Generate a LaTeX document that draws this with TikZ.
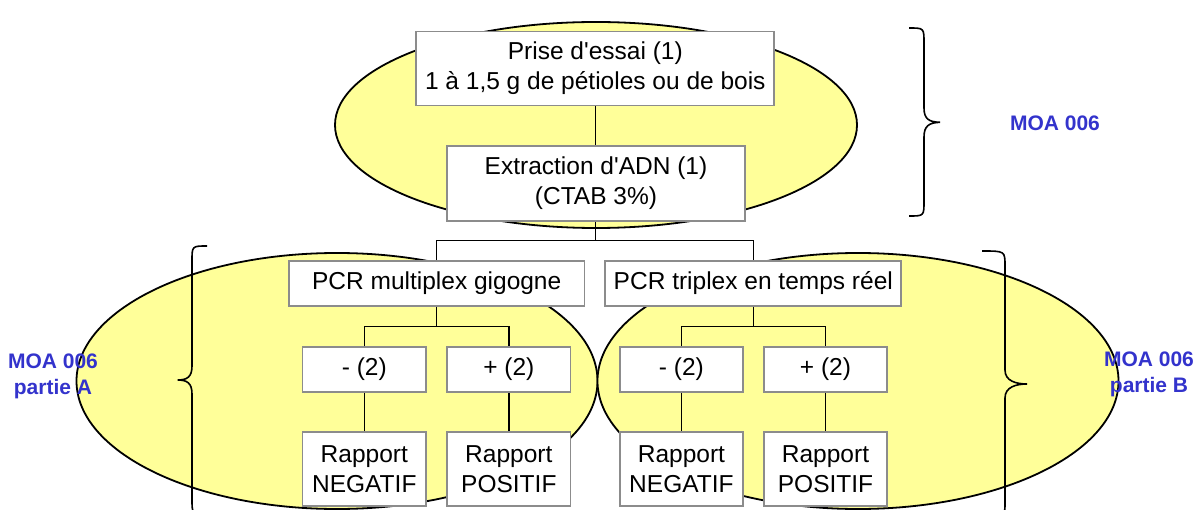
\documentclass[tikz,border=0pt]{standalone}
\usepackage{fontspec}
\setmainfont{Liberation Sans}
\definecolor{ellfill}{HTML}{FFFF99}
\definecolor{boxline}{HTML}{8C8C8C}
\definecolor{moablue}{HTML}{3333CC}
\tikzset{
  ell/.style={draw=black, line width=1.8pt, fill=ellfill},
  stepbox/.style={draw=boxline, line width=1.8pt, fill=white, inner sep=0pt, align=center,
    font=\fontsize{24.5}{30}\selectfont},
  link/.style={draw=black, line width=1.4pt},
  brace/.style={draw=black, line width=1.6pt},
  moalabel/.style={text=moablue, align=center, font=\fontsize{21}{26}\selectfont\bfseries}
}
\begin{document}
\begin{tikzpicture}[x=1pt,y=-1pt]
\useasboundingbox (0,0) rectangle (1198,510);
\clip (0,0) rectangle (1198,510);
% ellipses
\path[ell] (596,125) ellipse [x radius=261pt, y radius=103pt];
\path[ell] (337,381) ellipse [x radius=260.5pt, y radius=128pt];
\path[ell] (858,381) ellipse [x radius=260.5pt, y radius=128pt];
% boxes
\node[stepbox, minimum width=358pt, minimum height=74pt] (b1) at (595.3,68.5) {Prise d\textquotesingle essai (1)\\1 à 1,5 g de pétioles ou de bois};
\node[stepbox, minimum width=298pt, minimum height=75pt] (b2) at (596,183.5) {Extraction d\textquotesingle ADN (1)\\(CTAB 3\%)};
\node[stepbox, minimum width=295.5pt, minimum height=45pt] (p1) at (436.7,283.5) {PCR multiplex gigogne};
\node[stepbox, minimum width=296pt, minimum height=45pt] (p2) at (753.3,283.5) {PCR triplex en temps réel};
\node[stepbox, minimum width=123.5pt, minimum height=45pt] (m1) at (364.3,369.5) {- (2)};
\node[stepbox, minimum width=123.5pt, minimum height=45pt] (q1) at (508.8,369.5) {+ (2)};
\node[stepbox, minimum width=123.5pt, minimum height=45pt] (m2) at (681.4,369.5) {- (2)};
\node[stepbox, minimum width=123.5pt, minimum height=45pt] (q2) at (825.5,369.5) {+ (2)};
\node[stepbox, minimum width=123.5pt, minimum height=74pt] (r1) at (364.3,469.2) {Rapport\\NEGATIF};
\node[stepbox, minimum width=123.5pt, minimum height=74pt] (r2) at (508.8,469.2) {Rapport\\POSITIF};
\node[stepbox, minimum width=123.5pt, minimum height=74pt] (r3) at (681.4,469.2) {Rapport\\NEGATIF};
\node[stepbox, minimum width=123.5pt, minimum height=74pt] (r4) at (825.5,469.2) {Rapport\\POSITIF};
% connectors
\coordinate (j1) at (595.3,240.7);
\coordinate (j2) at (436.7,326.7);
\coordinate (j3) at (753.3,326.7);
\draw[link] (b1.south -| j1) -- (b2.north -| j1);
\draw[link] (b2.south -| j1) -- (j1);
\draw[link] (p1.north) |- (j1) -| (p2.north);
\draw[link] (p1.south) -- (j2);
\draw[link] (m1.north) |- (j2) -| (q1.north);
\draw[link] (p2.south) -- (j3);
\draw[link] (m2.north) |- (j3) -| (q2.north);
\draw[link] (m1) -- (r1);
\draw[link] (q1) -- (r2);
\draw[link] (m2) -- (r3);
\draw[link] (q2) -- (r4);
% braces
\draw[brace] (909,28) .. controls (924,28) .. (924,43) -- (924,108)
  .. controls (924,119) and (929,122) .. (940,122.3)
  .. controls (929,122.6) and (924,126) .. (924,137) -- (924,201)
  .. controls (924,216) .. (909,216);
\draw[brace] (207,246) .. controls (192,246) .. (192,261) -- (192,366)
  .. controls (192,377) and (187,380) .. (177.7,380)
  .. controls (187,380) and (192,383) .. (192,394) -- (192,499)
  .. controls (192,514) .. (207,514);
\draw[brace] (982,251) .. controls (1005,251) .. (1005,266) -- (1005,370)
  .. controls (1005,381) and (1016,384) .. (1027,384)
  .. controls (1016,384) and (1005,387) .. (1005,398) -- (1005,502)
  .. controls (1005,517) .. (982,517);
% labels
\node[moalabel] (lt) at (1055,123) {MOA 006};
\node[moalabel] (la) at (53,376.5) {MOA 006\\partie A};
\node[moalabel] (lb) at (1149,374) {MOA 006\\partie B};
\end{tikzpicture}
\end{document}
